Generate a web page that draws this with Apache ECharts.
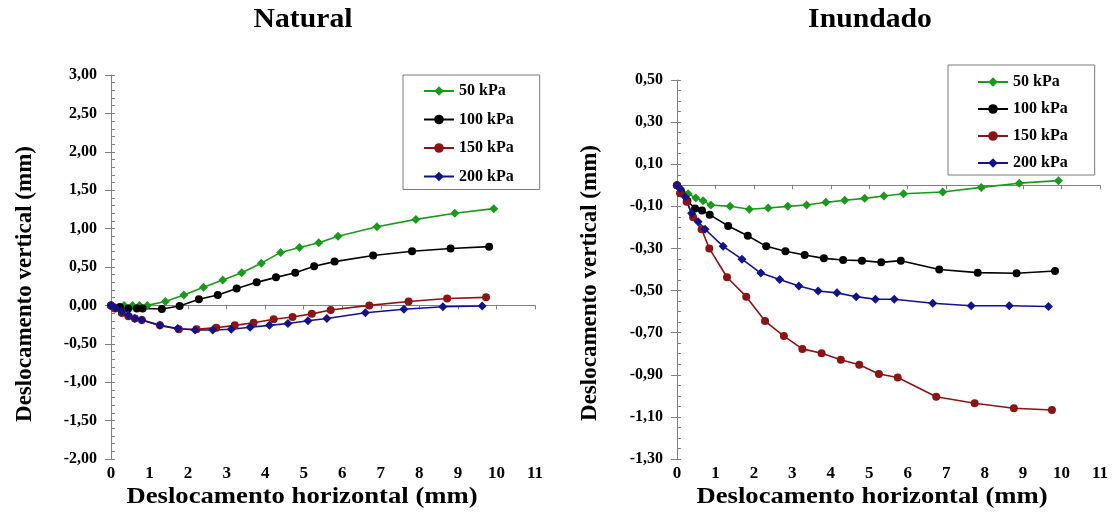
<!DOCTYPE html>
<html>
<head>
<meta charset="utf-8">
<script src="https://cdn.jsdelivr.net/npm/echarts@6/dist/echarts.min.js"></script>
<style>
  html, body { margin: 0; padding: 0; background: #fff; }
  #chart { width: 1115px; height: 516px; }
</style>
</head>
<body>
<div id="chart"></div>
<script>
// Shear-box readings: horizontal displacement (mm) vs vertical displacement (mm)
const seriesNames = ['50 kPa', '100 kPa', '150 kPa', '200 kPa'];

// Natural (unsaturated) specimens
const natural50 = [[0,0],[0.34,0],[0.56,0],[0.74,0],[0.94,0],[1.41,0.05],[1.89,0.135],[2.40,0.235],[2.90,0.33],[3.39,0.425],[3.90,0.55],[4.40,0.69],[4.89,0.755],[5.39,0.815],[5.89,0.90],[6.90,1.025],[7.91,1.12],[8.92,1.20],[9.93,1.26]];
const natural100 = [[0,0],[0.23,-0.02],[0.45,-0.04],[0.67,-0.04],[0.82,-0.04],[1.32,-0.047],[1.78,-0.008],[2.28,0.08],[2.77,0.135],[3.26,0.22],[3.78,0.30],[4.28,0.365],[4.78,0.425],[5.27,0.51],[5.80,0.57],[6.80,0.65],[7.81,0.705],[8.81,0.74],[9.81,0.765]];
const natural150 = [[0,0],[0.1,-0.04],[0.28,-0.10],[0.45,-0.14],[0.62,-0.17],[0.8,-0.19],[1.27,-0.26],[1.76,-0.31],[2.22,-0.31],[2.73,-0.29],[3.21,-0.26],[3.70,-0.225],[4.22,-0.18],[4.71,-0.15],[5.21,-0.11],[5.70,-0.06],[6.70,0.0],[7.72,0.05],[8.72,0.09],[9.73,0.105]];
const natural200 = [[0,0],[0.12,-0.03],[0.28,-0.08],[0.45,-0.125],[0.62,-0.17],[0.8,-0.19],[1.27,-0.26],[1.73,-0.30],[2.18,-0.32],[2.64,-0.32],[3.12,-0.31],[3.61,-0.285],[4.11,-0.26],[4.59,-0.235],[5.11,-0.20],[5.60,-0.17],[6.60,-0.095],[7.60,-0.05],[8.61,-0.017],[9.63,-0.008]];

// Inundated (flooded) specimens
const flooded50 = [[0,0],[0.1,-0.02],[0.29,-0.04],[0.49,-0.06],[0.68,-0.073],[0.88,-0.094],[1.38,-0.10],[1.88,-0.114],[2.37,-0.108],[2.88,-0.10],[3.37,-0.094],[3.87,-0.081],[4.36,-0.071],[4.88,-0.062],[5.38,-0.051],[5.89,-0.04],[6.91,-0.032],[7.91,-0.01],[8.90,0.01],[9.92,0.022]];
const flooded100 = [[0,0],[0.1,-0.03],[0.27,-0.075],[0.47,-0.11],[0.65,-0.12],[0.85,-0.14],[1.33,-0.193],[1.84,-0.24],[2.32,-0.29],[2.82,-0.313],[3.32,-0.331],[3.82,-0.347],[4.32,-0.355],[4.81,-0.358],[5.31,-0.366],[5.82,-0.358],[6.82,-0.40],[7.82,-0.415],[8.83,-0.418],[9.83,-0.407]];
const flooded150 = [[0,0],[0.08,-0.038],[0.25,-0.078],[0.42,-0.152],[0.64,-0.209],[0.84,-0.30],[1.30,-0.437],[1.80,-0.529],[2.29,-0.645],[2.78,-0.716],[3.26,-0.777],[3.76,-0.798],[4.26,-0.829],[4.74,-0.852],[5.25,-0.896],[5.74,-0.913],[6.74,-1.004],[7.74,-1.035],[8.76,-1.059],[9.75,-1.067]];
const flooded200 = [[0,0],[0.08,-0.015],[0.21,-0.054],[0.38,-0.133],[0.55,-0.173],[0.73,-0.209],[1.2,-0.29],[1.69,-0.351],[2.18,-0.417],[2.67,-0.447],[3.17,-0.478],[3.67,-0.502],[4.16,-0.511],[4.66,-0.529],[5.16,-0.541],[5.65,-0.541],[6.65,-0.56],[7.65,-0.572],[8.64,-0.572],[9.66,-0.576]];

// Axis tick values
const xTicks = [0,1,2,3,4,5,6,7,8,9,10,11];
const naturalYTicks = [3,2.5,2,1.5,1,0.5,0,-0.5,-1,-1.5,-2];
const floodedYTicks = [0.5,0.3,0.1,-0.1,-0.3,-0.5,-0.7,-0.9,-1.1,-1.3];

const SERIF = '"Liberation Serif", "Times New Roman", serif';
const AXIS_GRAY = '#808080';
const colors = ['#1a9a1a', '#000000', '#8b1414', '#12128f'];
const symbols = ['diamond', 'circle', 'circle', 'diamond'];
const symbolSizes = [9, 8, 8, 9];

const fmt = v => v.toFixed(2).replace('.', ',');

function xAxisFor(gridIndex) {
  return {
    type: 'value', gridIndex,
    min: xTicks[0], max: xTicks[xTicks.length - 1], interval: 1,
    axisLine: { onZero: true, lineStyle: { color: AXIS_GRAY, width: 1 } },
    axisTick: { show: true, length: 4, lineStyle: { color: AXIS_GRAY } },
    axisLabel: {
      color: '#000', fontFamily: SERIF, fontWeight: 'bold', fontSize: 17, margin: 6,
      showMinLabel: true, showMaxLabel: true
    },
    splitLine: { show: false }
  };
}

function yAxisFor(gridIndex, ticks) {
  return {
    type: 'value', gridIndex, position: 'left',
    min: Math.min(...ticks), max: Math.max(...ticks),
    axisLine: { onZero: true, lineStyle: { color: AXIS_GRAY, width: 1 } },
    axisTick: { show: true, length: 6, customValues: ticks, lineStyle: { color: AXIS_GRAY } },
    axisLabel: {
      customValues: ticks, formatter: fmt,
      color: '#000', fontFamily: SERIF, fontWeight: 'bold', fontSize: 16, margin: 14
    },
    splitLine: { show: false }
  };
}

// Unlabelled companion axis that only draws the minor ticks
function minorAxisFor(gridIndex, ticks, step) {
  return {
    type: 'value', gridIndex, position: 'left', offset: 0,
    min: Math.min(...ticks), max: Math.max(...ticks), interval: step,
    axisLine: { show: false, onZero: false },
    axisTick: { show: true, inside: true, length: 4, lineStyle: { color: AXIS_GRAY } },
    axisLabel: { show: false },
    splitLine: { show: false }
  };
}

function lineSeries(i, data, xAxisIndex, yAxisIndex) {
  return {
    name: seriesNames[i], type: 'line', data,
    xAxisIndex, yAxisIndex,
    symbol: symbols[i], symbolSize: symbolSizes[i],
    showSymbol: true,
    lineStyle: { color: colors[i], width: 1.6 },
    itemStyle: { color: colors[i] },
    animation: false
  };
}

function legendAt(left, top, gap, padding) {
  return {
    data: seriesNames, orient: 'vertical', left, top,
    backgroundColor: '#fff', borderColor: '#7a7a7a', borderWidth: 1,
    padding, itemGap: gap, itemWidth: 30, itemHeight: 12,
    textStyle: { fontFamily: SERIF, fontWeight: 'bold', fontSize: 16, color: '#000' },
    selectedMode: false
  };
}

function label(text, x, y, size, opts) {
  return Object.assign({
    type: 'text', x, y,
    style: {
      text, fill: '#000', align: 'center', verticalAlign: 'middle',
      font: 'bold ' + size + 'px ' + SERIF
    }
  }, opts || {});
}

const chart = echarts.init(document.getElementById('chart'), null, { renderer: 'canvas' });
chart.setOption({
  animation: false,
  backgroundColor: '#fff',
  grid: [
    { left: 111, top: 75, width: 424, height: 384 },
    { left: 677, top: 80, width: 423, height: 379 }
  ],
  xAxis: [xAxisFor(0), xAxisFor(1)],
  yAxis: [
    yAxisFor(0, naturalYTicks),
    yAxisFor(1, floodedYTicks),
    minorAxisFor(0, naturalYTicks, 0.1),
    minorAxisFor(1, floodedYTicks, 0.05)
  ],
  legend: [
    legendAt(403, 75, 12.5, [8, 26, 5, 20]),
    legendAt(948, 65, 11, [9, 27, 4, 29])
  ],
  series: [
    lineSeries(0, natural50, 0, 0),
    lineSeries(1, natural100, 0, 0),
    lineSeries(2, natural150, 0, 0),
    lineSeries(3, natural200, 0, 0),
    lineSeries(0, flooded50, 1, 1),
    lineSeries(1, flooded100, 1, 1),
    lineSeries(2, flooded150, 1, 1),
    lineSeries(3, flooded200, 1, 1)
  ],
  graphic: [
    label('Natural', 303, 20, 27, { scaleX: 1.1 }),
    label('Inundado', 870, 20, 27, { scaleX: 1.1 }),
    label('Deslocamento horizontal (mm)', 302, 497, 23, { scaleX: 1.16 }),
    label('Deslocamento horizontal (mm)', 872, 497, 23, { scaleX: 1.16 }),
    label('Deslocamento vertical (mm)', 25, 284, 23, { rotation: Math.PI / 2 }),
    label('Deslocamento vertical (mm)', 590, 283, 23, { rotation: Math.PI / 2 })
  ]
});
</script>
</body>
</html>
